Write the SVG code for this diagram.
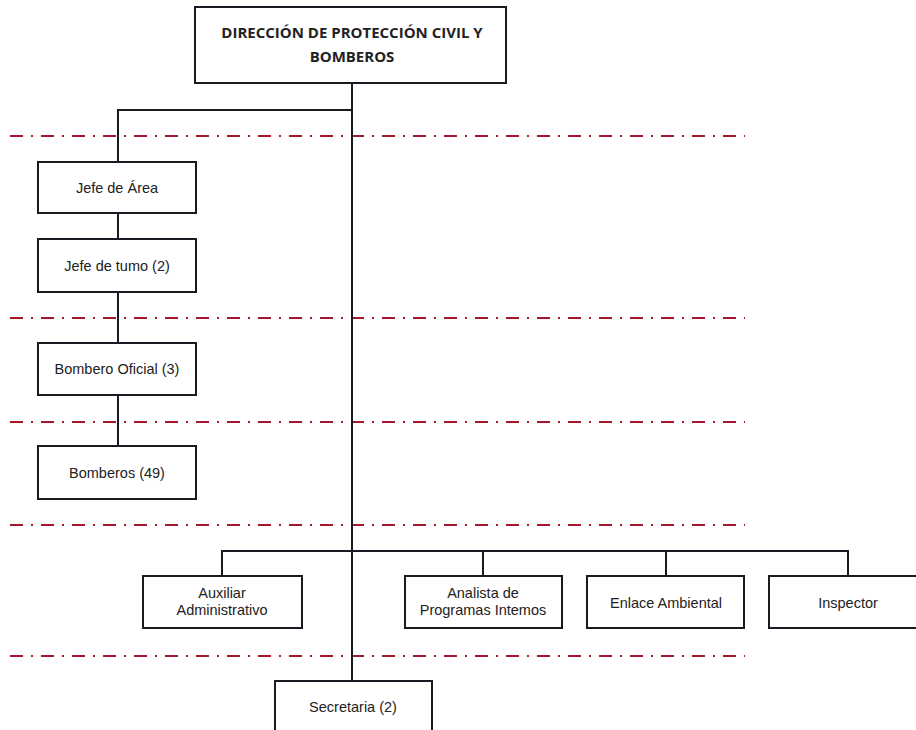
<svg xmlns="http://www.w3.org/2000/svg" width="916" height="730" viewBox="0 0 916 730">
<style>
.box{fill:#fff;stroke:#1a1a22;stroke-width:2}
.ln{fill:none;stroke:#1a1a22;stroke-width:2}
.dd{fill:none;stroke:#a3182c;stroke-width:2.2;stroke-dasharray:13 8 2 8}
.t{font-family:"Liberation Sans",Arial,sans-serif;font-size:14.5px;fill:#222;text-anchor:middle}
.h{font-family:"Open Sans","Liberation Sans",sans-serif;font-size:15px;font-weight:bold;fill:#222;text-anchor:middle}
</style>
<rect width="916" height="730" fill="#fff"/>
<g id="guides">
<line class="dd" x1="10" y1="136" x2="745" y2="136"/>
<line class="dd" x1="10" y1="318" x2="745" y2="318"/>
<line class="dd" x1="10" y1="422" x2="745" y2="422"/>
<line class="dd" x1="10" y1="525" x2="745" y2="525"/>
<line class="dd" x1="10" y1="656" x2="745" y2="656"/>
</g>
<g id="connectors">
<line class="ln" x1="352" y1="83" x2="352" y2="681"/>
<polyline class="ln" points="352,110 118,110 118,162"/>
<line class="ln" x1="118" y1="213" x2="118" y2="239"/>
<line class="ln" x1="118" y1="292" x2="118" y2="343"/>
<line class="ln" x1="118" y1="395" x2="118" y2="446"/>
<polyline class="ln" points="222,576 222,551 848,551 848,576"/>
<line class="ln" x1="483" y1="551" x2="483" y2="576"/>
<line class="ln" x1="666" y1="551" x2="666" y2="576"/>
</g>
<g id="n-direccion">
<rect class="box" x="195" y="7" width="311" height="76"/>
<text class="h" x="352" y="38">DIRECCIÓN DE PROTECCIÓN CIVIL Y</text>
<text class="h" x="352" y="62">BOMBEROS</text>
</g>
<g id="n-jefe-area">
<rect class="box" x="38" y="162" width="158" height="51"/>
<text class="t" x="117" y="193">Jefe de Área</text>
</g>
<g id="n-jefe-turno">
<rect class="box" x="38" y="239" width="158" height="53"/>
<text class="t" x="117" y="271">Jefe de tumo (2)</text>
</g>
<g id="n-bombero-oficial">
<rect class="box" x="38" y="343" width="158" height="52"/>
<text class="t" x="117" y="374">Bombero Oficial (3)</text>
</g>
<g id="n-bomberos">
<rect class="box" x="38" y="446" width="158" height="53"/>
<text class="t" x="117" y="478">Bomberos (49)</text>
</g>
<g id="n-auxiliar">
<rect class="box" x="143" y="576" width="159" height="52"/>
<text class="t" x="222" y="598">Auxiliar</text>
<text class="t" x="222" y="615">Administrativo</text>
</g>
<g id="n-analista">
<rect class="box" x="405" y="576" width="157" height="52"/>
<text class="t" x="483" y="598">Analista de</text>
<text class="t" x="483" y="615">Programas Intemos</text>
</g>
<g id="n-enlace">
<rect class="box" x="587" y="576" width="157" height="52"/>
<text class="t" x="666" y="608">Enlace Ambiental</text>
</g>
<g id="n-inspector">
<rect class="box" x="769" y="576" width="150" height="52"/>
<text class="t" x="848" y="608">Inspector</text>
</g>
<g id="n-secretaria">
<rect class="box" x="275" y="681" width="157" height="60"/>
<text class="t" x="353" y="712">Secretaria (2)</text>
</g>
</svg>
